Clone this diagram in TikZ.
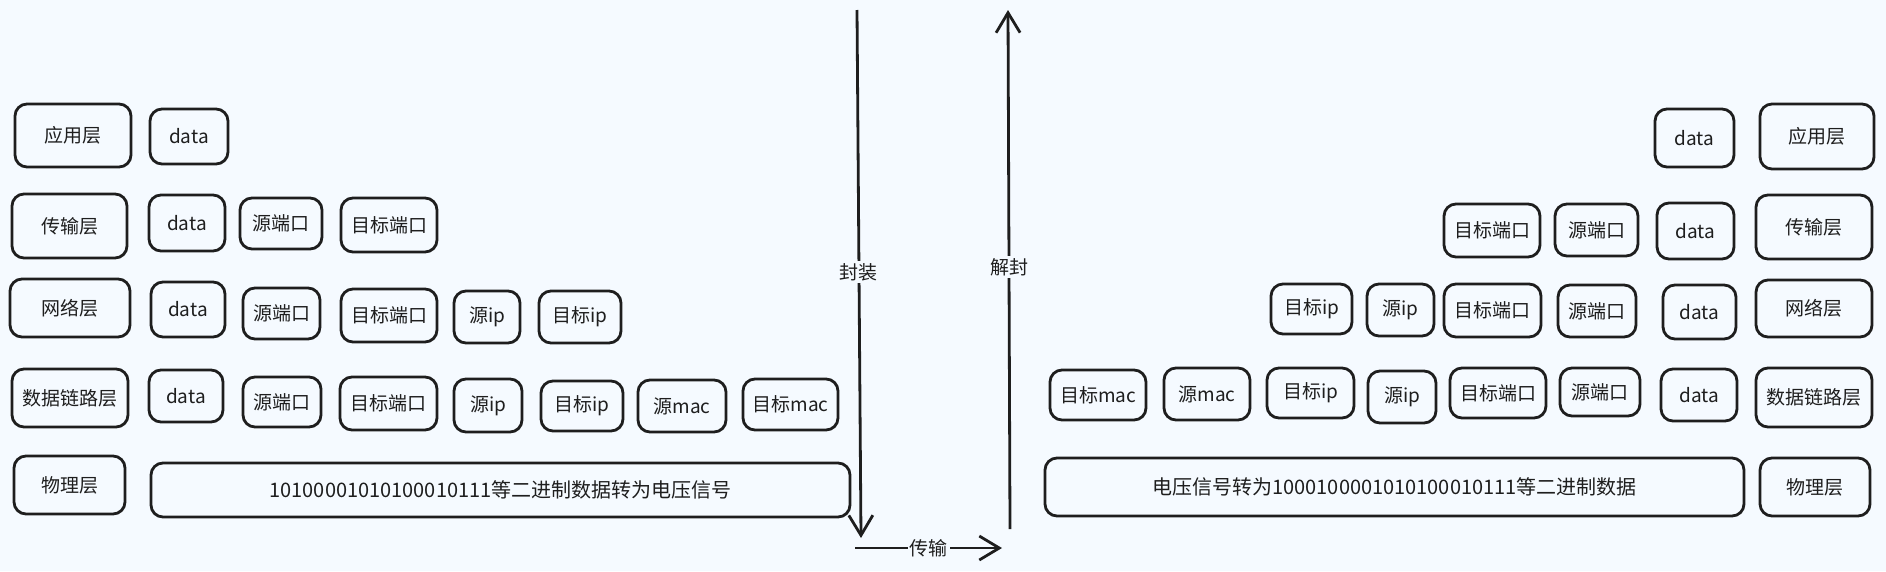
\documentclass[tikz,border=0pt]{standalone}
\usepackage{fontspec}
\setmainfont{Noto Sans CJK SC}
\usetikzlibrary{arrows.meta}
\definecolor{bg}{RGB}{245,250,255}
\definecolor{ink}{RGB}{30,30,30}
\newcommand\mkbox[5]{\node[box,minimum width=#3pt,minimum height=#4pt] (#1) at (#2) {#5};}
\begin{document}
\begin{tikzpicture}[x=1pt,y=-1pt,
  box/.style={draw=ink, line width=2.8pt, rounded corners=12pt, text=ink,
    font=\fontsize{19}{22}\selectfont, inner sep=0pt},
  wide/.style={font=\fontsize{20}{24}\selectfont},
  lbl/.style={fill=bg, text=ink, font=\fontsize{19}{22}\selectfont, inner sep=2pt},
  arr/.style={draw=ink, line width=2.8pt,
    -{Straight Barb[length=20pt,width=24pt,line width=2.8pt]}}]
\fill[bg] (0,0) rectangle (1886,571);
\useasboundingbox (0,0) rectangle (1886,571);
% ---------------- left side ----------------
\mkbox{L1}{73,135.5}{116}{63}{应用层}
\mkbox{L1d}{189,136.5}{78}{55}{data}
\mkbox{L2}{69.5,226}{115}{64}{传输层}
\mkbox{L2d}{187,223}{76}{56}{data}
\mkbox{L2s}{281,223.5}{82}{51}{源端口}
\mkbox{L2t}{389,225}{96}{54}{目标端口}
\mkbox{L3}{70,308}{120}{58}{网络层}
\mkbox{L3d}{188,309.5}{74}{55}{data}
\mkbox{L3s}{281.5,313.5}{77}{51}{源端口}
\mkbox{L3t}{389,315.5}{96}{53}{目标端口}
\mkbox{L3i}{487,317}{66}{52}{源ip}
\mkbox{L3j}{580,317}{82}{52}{目标ip}
\mkbox{L4}{70,398}{116}{58}{数据链路层}
\mkbox{L4d}{186,396}{74}{52}{data}
\mkbox{L4s}{282,402}{78}{50}{源端口}
\mkbox{L4t}{388.5,403.5}{97}{53}{目标端口}
\mkbox{L4i}{488,405.5}{68}{53}{源ip}
\mkbox{L4j}{582,406}{82}{50}{目标ip}
\mkbox{L4m}{682,406}{88}{52}{源mac}
\mkbox{L4n}{790.5,404.5}{95}{51}{目标mac}
\mkbox{L5}{69.5,485}{111}{58}{物理层}
\node[box,wide,minimum width=699pt,minimum height=54pt] (L5b) at (500.5,490) {10100001010100010111等二进制数据转为电压信号};
% ---------------- right side ----------------
\mkbox{R1d}{1694.5,138}{79}{58}{data}
\mkbox{R1}{1817,136.5}{114}{65}{应用层}
\mkbox{R2t}{1492,230.5}{96}{53}{目标端口}
\mkbox{R2s}{1596.5,230}{83}{52}{源端口}
\mkbox{R2d}{1695.5,231}{77}{56}{data}
\mkbox{R2}{1814,227}{116}{64}{传输层}
\mkbox{R3j}{1311.5,309}{81}{50}{目标ip}
\mkbox{R3i}{1400.5,310}{67}{52}{源ip}
\mkbox{R3t}{1492.5,310.5}{97}{53}{目标端口}
\mkbox{R3s}{1597,311}{78}{52}{源端口}
\mkbox{R3d}{1699.5,312}{73}{54}{data}
\mkbox{R3}{1814,308.5}{116}{57}{网络层}
\mkbox{R4n}{1098,395}{96}{50}{目标mac}
\mkbox{R4m}{1207,394}{86}{52}{源mac}
\mkbox{R4j}{1310.5,393}{87}{50}{目标ip}
\mkbox{R4i}{1402,397}{68}{52}{源ip}
\mkbox{R4t}{1498,393}{96}{50}{目标端口}
\mkbox{R4s}{1600,392}{80}{48}{源端口}
\mkbox{R4d}{1699,395}{76}{52}{data}
\mkbox{R4}{1814,397.5}{116}{59}{数据链路层}
\node[box,wide,minimum width=699pt,minimum height=58pt] (R5b) at (1394.5,487) {电压信号转为1000100001010100010111等二进制数据};
\mkbox{R5}{1815,487}{110}{58}{物理层}
% ---------------- arrows ----------------
\coordinate (dtop) at (857,10);
\coordinate (dbot) at (861,538);
\coordinate (ubot) at (1010,529);
\coordinate (utop) at (1008,10);
\coordinate (hl) at (855,548);
\coordinate (hr) at (1002,548);
\draw[arr] (dtop) -- node[lbl,pos=0.496] (encap) {封装} (dbot);
\draw[arr] (ubot) -- node[lbl,pos=0.505] (decap) {解封} (utop);
\draw[arr] (hl) -- node[lbl,pos=0.503] (trans) {传输} (hr);
\end{tikzpicture}
\end{document}
